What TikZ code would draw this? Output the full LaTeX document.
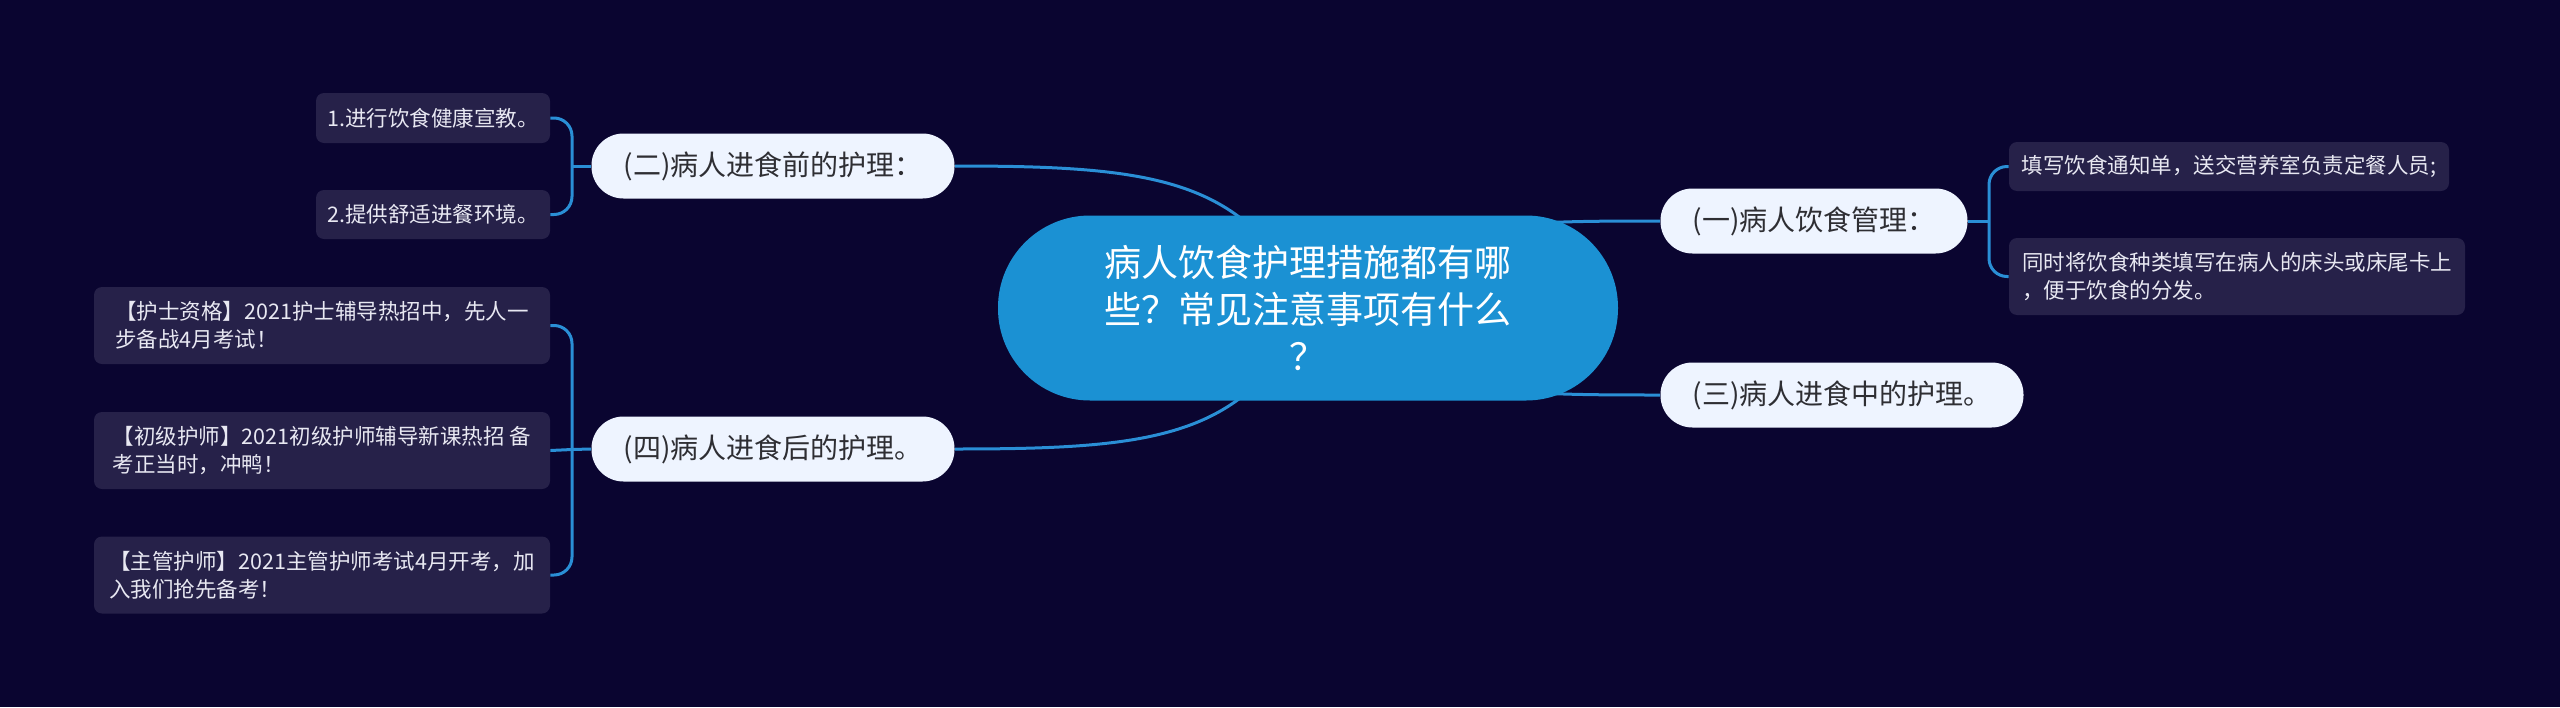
\documentclass[tikz,border=0pt]{standalone}
\usepackage{fontspec}
\setmainfont{Noto Sans CJK SC}
\usetikzlibrary{calc}
\definecolor{bgc}{HTML}{0A0530}
\definecolor{leaffill}{HTML}{262149}
\definecolor{nodefill}{HTML}{EEF4FF}
\definecolor{centerfill}{HTML}{1B91D3}
\definecolor{linec}{HTML}{2A8FD6}
\definecolor{leaftext}{HTML}{E8E8F2}
\definecolor{nodetext}{HTML}{2E2E33}
\pgfdeclarelayer{bg}
\pgfsetlayers{bg,main}
\tikzset{
  centerbox/.style={fill=centerfill, text=white, rounded corners=46pt, minimum width=310pt, minimum height=92.5pt, inner sep=0pt, align=center, font=\fontsize{18.5pt}{23.5pt}\selectfont},
  topicbox/.style={fill=nodefill, text=nodetext, rounded corners=16pt, minimum height=32.5pt, inner sep=0pt, align=center, font=\fontsize{14pt}{17pt}\selectfont},
  leafbox/.style={fill=leaffill, text=leaftext, rounded corners=4pt, inner sep=0pt, align=left, font=\fontsize{10.75pt}{14pt}\selectfont},
  conn/.style={draw=linec, line width=1.5pt},
}
\begin{document}
\begin{tikzpicture}[x=0.5pt,y=-0.5pt]
\useasboundingbox (0,0) rectangle (2560,707);
\begin{pgfonlayer}{bg}
\fill[bgc] (0,0) rectangle (2560,707);
\end{pgfonlayer}

% central
\node[centerbox] (c) at (1308,308) {病人饮食护理措施都有哪\\些？常见注意事项有什么\\？};

% main topics
\node[topicbox, minimum width=153.5pt] (n1) at (1814,221) {(一)病人饮食管理：};
\node[topicbox, minimum width=181.5pt] (n3) at (1842,395) {(三)病人进食中的护理。};
\node[topicbox, minimum width=181.5pt] (n2) at (773,166) {(二)病人进食前的护理：};
\node[topicbox, minimum width=181.5pt] (n4) at (773,449) {(四)病人进食后的护理。};

% right leaves
\node[leafbox, minimum width=220pt, minimum height=24.5pt] (r1) at (2229,166.5) {填写饮食通知单，送交营养室负责定餐人员;};
\node[leafbox, minimum width=228pt, minimum height=38.5pt] (r2) at (2237,276.5) {同时将饮食种类填写在病人的床头或床尾卡上\\，便于饮食的分发。};

% left leaves of (二)
\node[leafbox, minimum width=117pt, minimum height=25pt] (a1) at (433,118) {1.进行饮食健康宣教。};
\node[leafbox, minimum width=117pt, minimum height=24.5pt] (a2) at (433,214.5) {2.提供舒适进餐环境。};

% left leaves of (四)
\node[leafbox, minimum width=228pt, minimum height=38.5pt] (d1) at (322,325.5) {【护士资格】2021护士辅导热招中，先人一\\步备战4月考试！};
\node[leafbox, minimum width=228pt, minimum height=38.5pt] (d2) at (322,450.5) {【初级护师】2021初级护师辅导新课热招 备\\考正当时，冲鸭！};
\node[leafbox, minimum width=228pt, minimum height=38.5pt] (d3) at (322,575) {【主管护师】2021主管护师考试4月开考，加\\入我们抢先备考！};

% bracket joints
\coordinate (b1) at (1989,221);
\coordinate (b2) at (572,166);
\coordinate (b4) at (572,449.5);

\begin{pgfonlayer}{bg}
\draw[conn] (c.center) .. controls +(92,-86) and +(-161,0) .. (n1.west);
\draw[conn] (c.center) .. controls +(92,86) and +(-161,0) .. (n3.west);
\draw[conn] (c.center) .. controls +(-60,-130) and +(200,0) .. (n2.east);
\draw[conn] (c.center) .. controls +(-60,130) and +(200,0) .. (n4.east);
\end{pgfonlayer}

\draw[conn] (n1.east) -- (b1);
\draw[conn, rounded corners=9pt] (r1.west) -| (b1) |- (r2.west);
\draw[conn] (n2.west) -- (b2);
\draw[conn, rounded corners=9pt] (a1.east) -| (b2) |- (a2.east);
\draw[conn] (n4.west) -- (b4);
\draw[conn, rounded corners=9pt] (d1.east) -| (b4) |- (d3.east);
\draw[conn] (d2.east) -- (b4);
\end{tikzpicture}
\end{document}
